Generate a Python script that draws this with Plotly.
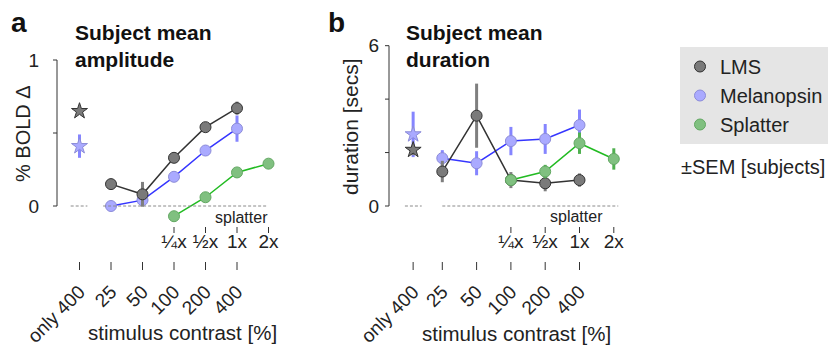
import plotly.graph_objects as go

# ---------------- data ----------------
contrast_labels = ["only 400", "25", "50", "100", "200", "400"]
splatter_labels = ["¼x", "½x", "1x", "2x"]

# panel a: amplitude (% BOLD change)
lms_amp = [0.15, 0.08, 0.33, 0.54, 0.67]
lms_amp_sem = [0.01, 0.085, 0.02, 0.02, 0.045]
mel_amp = [0.00, 0.04, 0.20, 0.38, 0.53]
mel_amp_sem = [0.01, 0.03, 0.02, 0.035, 0.09]
spl_amp = [-0.07, 0.06, 0.23, 0.29]
spl_amp_sem = [0.01, 0.01, 0.03, 0.03]
lms_only_amp = [0.65]
lms_only_amp_sem = [0.02]
mel_only_amp = [0.41]
mel_only_amp_sem = [0.08]

# panel b: duration (secs)
lms_dur = [1.29, 3.38, 0.97, 0.85, 0.97]
lms_dur_sem = [0.4, 1.2, 0.3, 0.3, 0.25]
mel_dur = [1.79, 1.60, 2.43, 2.51, 3.03]
mel_dur_sem = [0.3, 0.45, 0.53, 0.56, 0.58]
spl_dur = [0.97, 1.29, 2.35, 1.76]
spl_dur_sem = [0.15, 0.25, 0.4, 0.4]
lms_only_dur = [2.10]
lms_only_dur_sem = [0.2]
mel_only_dur = [2.68]
mel_only_dur_sem = [0.85]

# category positions on the axes
pos_contrast = [1, 2, 3, 4, 5]
pos_splatter = [3, 4, 5, 6]
pos_only_a = [0]
pos_only_b = [0.15]
yticks_a = [0, 0.5, 1]
yticks_b = [0, 2, 4, 6]

FONT = "Liberation Sans, Arial, Helvetica, sans-serif"

LMS = dict(fill="#7a7a7a", edge="#333333", line="#333333", err="#7f7f7f")
MEL = dict(fill="#aaaaff", edge="#8c8cd8", line="#3535ff", err="#8585ff")
SPL = dict(fill="#80c080", edge="#62a862", line="#22bb22", err="#4fb04f")

fig = go.Figure()


def add_series(xs, ys, sem, c, name, xa, ya, legend):
    fig.add_trace(go.Scatter(x=xs, y=ys, mode="lines", xaxis=xa, yaxis=ya,
                             line=dict(color=c["line"], width=1.5),
                             showlegend=False, hoverinfo="skip"))
    fig.add_trace(go.Scatter(x=xs, y=ys, mode="markers", xaxis=xa, yaxis=ya,
                             name=name, showlegend=legend, legendgroup=name,
                             marker=dict(size=11, color=c["fill"],
                                         line=dict(color=c["edge"], width=1)),
                             error_y=dict(type="data", array=sem, color=c["err"],
                                          thickness=3, width=0)))


def add_star(xs, ys, sem, c, xa, ya):
    fig.add_trace(go.Scatter(x=xs, y=ys, mode="markers", xaxis=xa, yaxis=ya,
                             showlegend=False,
                             marker=dict(symbol="star", size=12, color=c["fill"],
                                         line=dict(color=c["edge"], width=1)),
                             error_y=dict(type="data", array=sem, color=c["err"],
                                          thickness=3, width=0)))


# panel a (splatter series lives on the splatter axis x3)
add_series(pos_splatter, spl_amp, spl_amp_sem, SPL, "Splatter", "x3", "y", False)
add_series(pos_contrast, mel_amp, mel_amp_sem, MEL, "Melanopsin", "x", "y", False)
add_series(pos_contrast, lms_amp, lms_amp_sem, LMS, "LMS", "x", "y", False)
add_star(pos_only_a, mel_only_amp, mel_only_amp_sem, MEL, "x", "y")
add_star(pos_only_a, lms_only_amp, lms_only_amp_sem, LMS, "x", "y")

# panel b (splatter series lives on the splatter axis x4)
add_series(pos_splatter, spl_dur, spl_dur_sem, SPL, "Splatter", "x4", "y2", True)
add_series(pos_contrast, mel_dur, mel_dur_sem, MEL, "Melanopsin", "x2", "y2", True)
add_series(pos_contrast, lms_dur, lms_dur_sem, LMS, "LMS", "x2", "y2", True)
add_star(pos_only_b, mel_only_dur, mel_only_dur_sem, MEL, "x2", "y2")
add_star(pos_only_b, lms_only_dur, lms_only_dur_sem, LMS, "x2", "y2")

W, H = 834, 347


def px_x(p):
    return p / W


def px_y(p):
    return 1 - p / H


# pixel geometry of each panel (scale + origin)
A_UNIT, A_X0 = 31.5, 79.5      # px per category step, px of position 0
B_UNIT, B_X0 = 34.3, 408.0
A_YPX, B_YPX, Y0PX = 146.0, 26.72, 206.0   # px per y unit, px of y = 0

ax_l, ax_r = 40, 290
bx_l, bx_r = 380, 640
y_top, y_bot = 40, 275


def xa_v(p):
    return (p - A_X0) / A_UNIT


def xb_v(p):
    return (p - B_X0) / B_UNIT


def ya_v(p):
    return (Y0PX - p) / A_YPX


def yb_v(p):
    return (Y0PX - p) / B_YPX


xa_dom = [px_x(ax_l), px_x(ax_r)]
xb_dom = [px_x(bx_l), px_x(bx_r)]
xa_rng = [xa_v(ax_l), xa_v(ax_r)]
xb_rng = [xb_v(bx_l), xb_v(bx_r)]
y_dom = [px_y(y_bot), px_y(y_top)]

tickfont = dict(family=FONT, size=19, color="#222")

contrast_axis = dict(anchor="free", position=px_y(276), showline=False, showgrid=False,
                     zeroline=False, ticks="", tickmode="array", tickangle=-45,
                     tickfont=tickfont, automargin=False)
splatter_axis = dict(anchor="free", position=px_y(228), showline=False, showgrid=False,
                     zeroline=False, ticks="", tickmode="array", tickangle=0,
                     tickvals=pos_splatter, ticktext=splatter_labels,
                     tickfont=tickfont, automargin=False)

fig.update_layout(
    width=W, height=H, margin=dict(l=0, r=0, t=0, b=0, autoexpand=False),
    paper_bgcolor="white", plot_bgcolor="rgba(0,0,0,0)",
    font=dict(family=FONT, size=19, color="#222"),
    xaxis=dict(domain=xa_dom, range=xa_rng,
               tickvals=pos_only_a + pos_contrast, ticktext=contrast_labels,
               **contrast_axis),
    xaxis2=dict(domain=xb_dom, range=xb_rng,
                tickvals=pos_only_b + pos_contrast, ticktext=contrast_labels,
                **contrast_axis),
    xaxis3=dict(domain=xa_dom, range=xa_rng, **splatter_axis),
    xaxis4=dict(domain=xb_dom, range=xb_rng, **splatter_axis),
    yaxis=dict(domain=y_dom, range=[ya_v(y_bot), ya_v(y_top)], anchor="x",
               showline=False, showgrid=False, zeroline=False, ticks="",
               tickvals=yticks_a, ticktext=["0", "", "1"],
               automargin=False, tickfont=tickfont),
    yaxis2=dict(domain=y_dom, range=[yb_v(y_bot), yb_v(y_top)], anchor="x2",
                showline=False, showgrid=False, zeroline=False, ticks="",
                tickvals=yticks_b, ticktext=["0", "", "", "6"],
                automargin=False, tickfont=tickfont),
    legend=dict(x=px_x(680), y=px_y(47), xanchor="left", yanchor="top",
                bgcolor="#e5e5e5", borderwidth=0, traceorder="reversed",
                font=dict(family=FONT, size=20, color="#222"),
                itemclick=False, itemdoubleclick=False),
    showlegend=True,
)

axis_line = dict(color="#333333", width=1)


def seg(xref, yref, x0, x1, y0, y1, line):
    fig.add_shape(type="line", xref=xref, yref=yref, x0=x0, x1=x1, y0=y0, y1=y1,
                  line=line)


# panel a axis line + ticks (axis-referenced shapes)
ya_axis_x = xa_v(57)
seg("x", "y", ya_axis_x, ya_axis_x, yticks_a[0], yticks_a[-1], axis_line)
for t in yticks_a:
    seg("x", "y", ya_axis_x, xa_v(53), t, t, axis_line)
for t in pos_only_a + pos_contrast:
    seg("x", "y", t, t, ya_v(262), ya_v(270), axis_line)
for t in pos_splatter:
    seg("x", "y", t, t, ya_v(227), ya_v(233), axis_line)

# panel b axis line + ticks
yb_axis_x = xb_v(389)
seg("x2", "y2", yb_axis_x, yb_axis_x, yticks_b[0], yticks_b[-1], axis_line)
for t in yticks_b:
    seg("x2", "y2", yb_axis_x, xb_v(385), t, t, axis_line)
for t in pos_only_b + pos_contrast:
    seg("x2", "y2", t, t, yb_v(262), yb_v(270), axis_line)
for t in pos_splatter:
    seg("x2", "y2", t, t, yb_v(227), yb_v(233), axis_line)

# zero reference lines
dash = dict(color="#8a8a8a", width=1, dash="3px,2px")
seg("x", "y", -0.28, 0.25, 0, 0, dash)
seg("x", "y", 0.75, 5.95, 0, 0, dash)
seg("x2", "y2", -0.09, 0.40, 0, 0, dash)
seg("x2", "y2", 1.0, 6.13, 0, 0, dash)

ann = []
def A(text, x, y, size=19, bold=False, xanchor="center", yanchor="middle", angle=0):
    t = f"<b>{text}</b>" if bold else text
    ann.append(dict(text=t, x=px_x(x), y=px_y(y), xref="paper", yref="paper",
                    xanchor=xanchor, yanchor=yanchor, showarrow=False, textangle=angle,
                    font=dict(family=FONT, size=size, color="#111" if bold else "#222"),
                    align="left"))

A("a", 9, 22, size=28, bold=True, xanchor="left")
A("b", 326, 22, size=28, bold=True, xanchor="left")
A("Subject mean<br>amplitude", 73, 46, size=21, bold=True, xanchor="left")
A("Subject mean<br>duration", 404, 46, size=21, bold=True, xanchor="left")
A("% BOLD Δ", 23, 134, size=20, angle=-90)
A("duration [secs]", 350, 127, size=21, angle=-90)
A("splatter", 242, 217, size=16)
A("splatter", 576, 216, size=16)
A("stimulus contrast [%]", 182, 332, size=20.5)
A("stimulus contrast [%]", 516, 333, size=20.5)
A("±SEM [subjects]", 679, 167, size=20, xanchor="left")
fig.update_layout(annotations=ann)

fig.write_html("out.html", config={"displayModeBar": False},
               post_script="document.body.style.margin='0';document.body.style.padding='0';")
